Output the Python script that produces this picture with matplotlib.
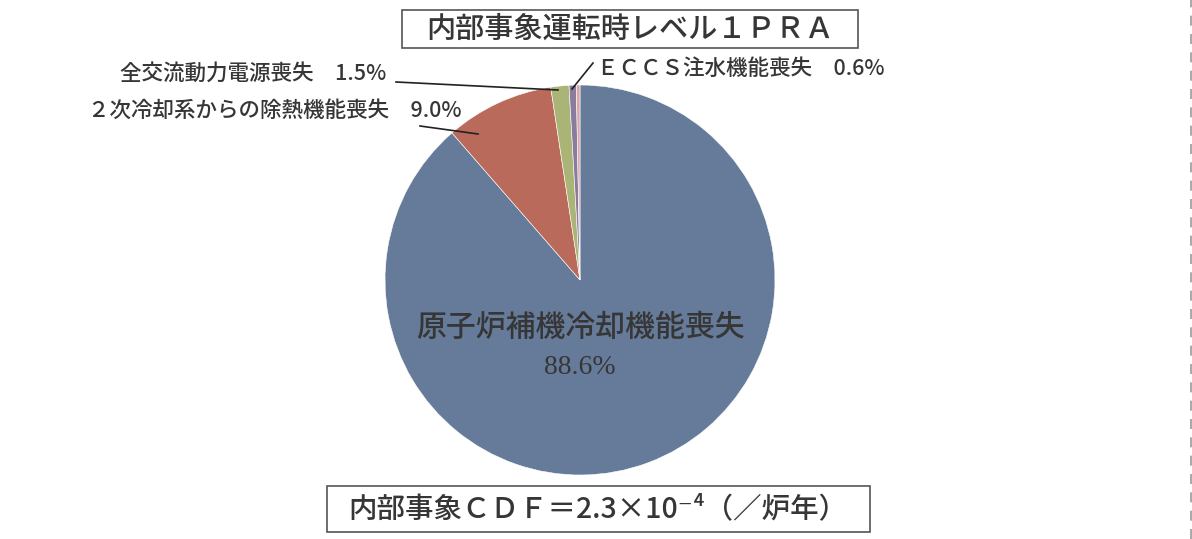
import matplotlib.pyplot as plt
from matplotlib.patches import Rectangle

plt.rcParams['font.family'] = ['Noto Sans CJK JP', 'DejaVu Sans']

# データ
labels = ['原子炉補機冷却機能喪失', '２次冷却系からの除熱機能喪失', '全交流動力電源喪失', 'ＥＣＣＳ注水機能喪失', '']
values = [88.6, 9.0, 1.5, 0.6, 0.3]
colors = ['#667b99', '#b96a5a', '#a9b476', '#8a7c9c', '#d8a7aa']
title = '内部事象運転時レベル１ＰＲＡ'
cdf_text = '内部事象ＣＤＦ＝2.3×10⁻⁴（／炉年）'

W, H = 1192, 539
fig = plt.figure(figsize=(W / 100, H / 100), dpi=100)
ax = fig.add_axes([0, 0, 1, 1])

cx, cy, r = 580, 259, 195
wedges, _ = ax.pie(values, colors=colors, startangle=90, counterclock=False,
                   center=(cx, cy), radius=r, frame=True,
                   wedgeprops=dict(linewidth=0.4, edgecolor='white'))
ax.set_xlim(0, W)
ax.set_ylim(0, H)
ax.set_aspect('equal')
ax.axis('off')

txt = '#363636'
# 中央ラベル
ax.text(cx, H - 327, labels[0], ha='center', va='center', fontsize=21.5, color=txt, fontweight='medium')
ax.text(cx, H - 368, f'{values[0]:.1f}%', ha='center', va='center', fontsize=20,
        color=txt, family=['Liberation Serif', 'DejaVu Serif'])

lab_fs = 15.5
# 全交流動力電源喪失
ax.text(386, H - 74, f'{labels[2]}　{values[2]:.1f}%', ha='right', va='center', fontsize=lab_fs,
        color=txt, fontweight='medium')
ax.plot([396, 558], [H - 82, H - 90], color='#222222', lw=1.2)
# ２次冷却系
ax.text(461, H - 111, f'{labels[1]}　{values[1]:.1f}%', ha='right', va='center', fontsize=lab_fs,
        color=txt, fontweight='medium')
ax.plot([420, 478], [H - 126, H - 134], color='#222222', lw=1.2)
# ＥＣＣＳ
ax.text(597, H - 69, f'{labels[3]}　{values[3]:.1f}%', ha='left', va='center', fontsize=lab_fs,
        color=txt, fontweight='medium')
ax.plot([572, 593], [H - 89, H - 63], color='#222222', lw=1.2)

# タイトル枠
ax.add_patch(Rectangle((402, H - 48), 456, 38, fill=False, edgecolor='#555555', lw=1.2))
ax.text(630, H - 29, title, ha='center', va='center', fontsize=21, color=txt, fontweight='medium')

# CDF枠
ax.add_patch(Rectangle((327, H - 532), 543, 46, fill=False, edgecolor='#555555', lw=1.2))
ax.text(598, H - 509, cdf_text, ha='center', va='center', fontsize=20.5, color=txt, fontweight='medium')

# 右端の破線
ax.plot([1190.5, 1190.5], [0, H], color='#999999', lw=1.2, ls=(0, (6, 5)))

fig.savefig('out.png', dpi=100, facecolor='white')
